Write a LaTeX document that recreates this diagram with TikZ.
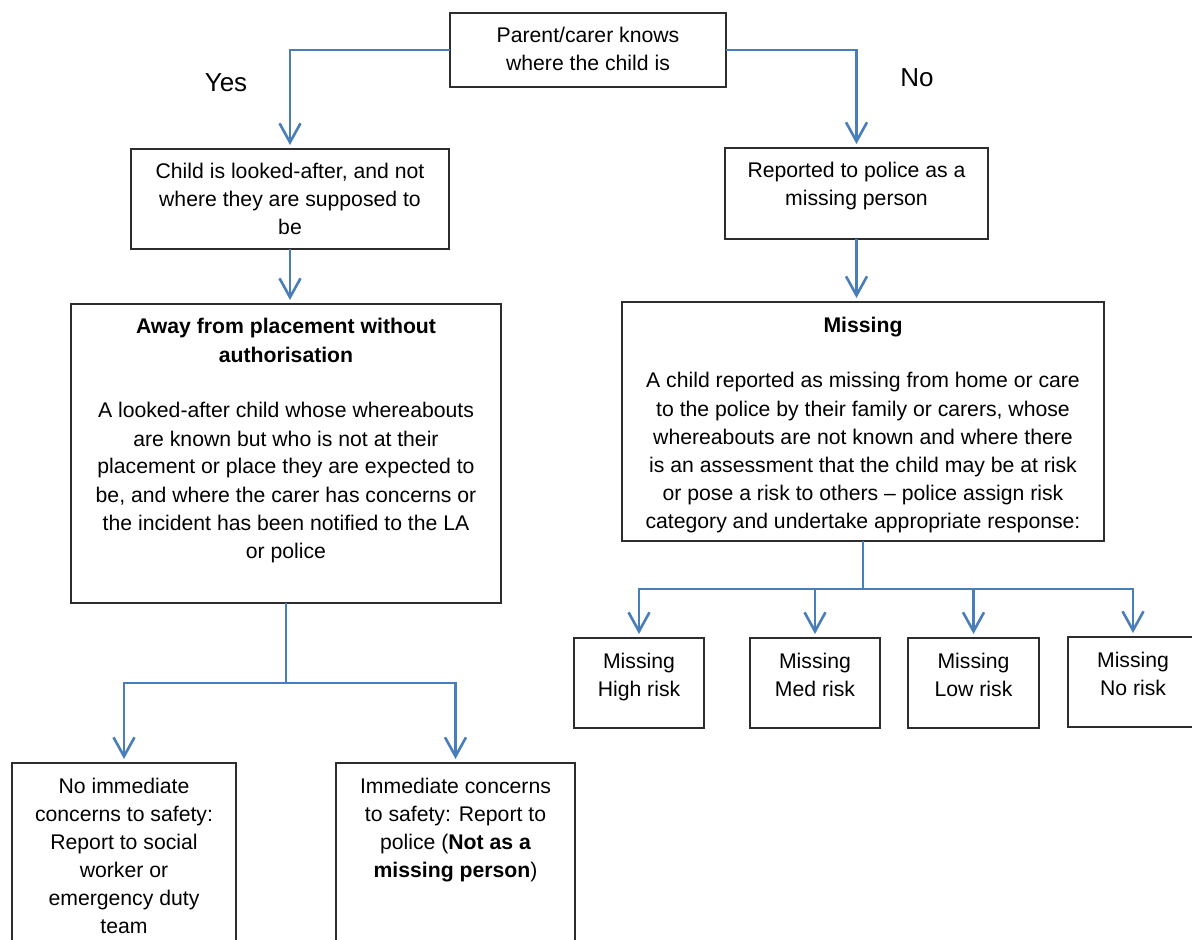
\documentclass[tikz,border=0pt]{standalone}
\usepackage{fontspec}
\setmainfont{Liberation Sans}
\usepackage{tikz}
\usetikzlibrary{arrows.meta}
\definecolor{flowblue}{RGB}{74,126,187}
\definecolor{boxgrey}{RGB}{45,45,45}
\newcommand{\boxtext}[3]{\parbox[c][#2][t]{#1}{\centering\rule{0pt}{15pt}#3}}
\tikzset{
flowbox/.style = {draw=boxgrey, line width=0.75pt, inner sep=0pt, outer sep=0pt, anchor=north west, font=\fontsize{10.6}{14}\selectfont},
answer/.style = {font=\fontsize{13}{15}\selectfont},
line/.style = {draw=flowblue, line width=1.3pt, shorten >=2pt, -{Straight Barb[length=9.5pt,width=10.5pt]}},
branch/.style = {draw=flowblue, line width=1.3pt},
coord/.style = {coordinate}
}

\begin{document}
\begin{tikzpicture}[x=0.5pt, y=-0.5pt]
    \useasboundingbox (0,0) rectangle (1192,940);
    \node [flowbox] (parent) at (450,13) {\boxtext{138pt}{37pt}{Parent/carer knows\\where the child is}};
    \node [flowbox] (looked) at (131,149) {\boxtext{159pt}{50pt}{Child is looked-after, and not\\where they are supposed to\\be}};
    \node [flowbox] (reported) at (725,148) {\boxtext{131.5pt}{45.5pt}{Reported to police as a\\missing person}};
    \node [flowbox] (away) at (71,304) {\boxtext{215pt}{149.5pt}{\textbf{Away from placement without}\\\textbf{authorisation}\\[14pt]A looked-after child whose whereabouts\\are known but who is not at their\\placement or place they are expected to\\be, and where the carer has concerns or\\the incident has been notified to the LA\\or police}};
    \node [flowbox] (missing) at (622,302) {\boxtext{241pt}{119.5pt}{\textbf{Missing}\\[14pt]A child reported as missing from home or care\\to the police by their family or carers, whose\\whereabouts are not known and where there\\is an assessment that the child may be at risk\\or pose a risk to others – police assign risk\\category and undertake appropriate response:}};
    \node [flowbox] (highrisk) at (574,638) {\boxtext{65pt}{45pt}{Missing\\High risk}};
    \node [flowbox] (medrisk) at (750,638) {\boxtext{65pt}{45pt}{Missing\\Med risk}};
    \node [flowbox] (lowrisk) at (908,638) {\boxtext{65.5pt}{45pt}{Missing\\Low risk}};
    \node [flowbox] (norisk) at (1068,637) {\boxtext{65pt}{45pt}{Missing\\No risk}};
    \node [flowbox] (noconcern) at (12,763) {\boxtext{112pt}{95pt}{No immediate\\concerns to safety:\\Report to social\\worker or\\emergency duty\\team}};
    \node [flowbox] (concern) at (336,763) {\boxtext{119.5pt}{95pt}{Immediate concerns\\to safety: Report to\\police (\textbf{Not as a}\\\textbf{missing person})}};
    \node [answer] (yes) at (226,83) {Yes};
    \node [answer] (no) at (917,78) {No};
    \node [coord] (awayfork) at (away.south |- 0,683) {};
    \node [coord] (missfork) at (missing.south |- 0,589) {};

    \path [line] (parent.west) -| (looked.north);
    \path [line] (parent.east) -| (reported.north);
    \path [line] (looked.south) -- (looked.south |- away.north);
    \path [line] (reported.south) -- (reported.south |- missing.north);
    \path [branch] (away.south) -- (awayfork);
    \path [line] (awayfork) -| (noconcern.north);
    \path [line] (awayfork) -| (concern.north);
    \path [branch] (missing.south) -- (missfork);
    \foreach \risk in {highrisk,medrisk,lowrisk,norisk}
        \path [line] (missfork) -| (\risk.north);
\end{tikzpicture}
\end{document}
